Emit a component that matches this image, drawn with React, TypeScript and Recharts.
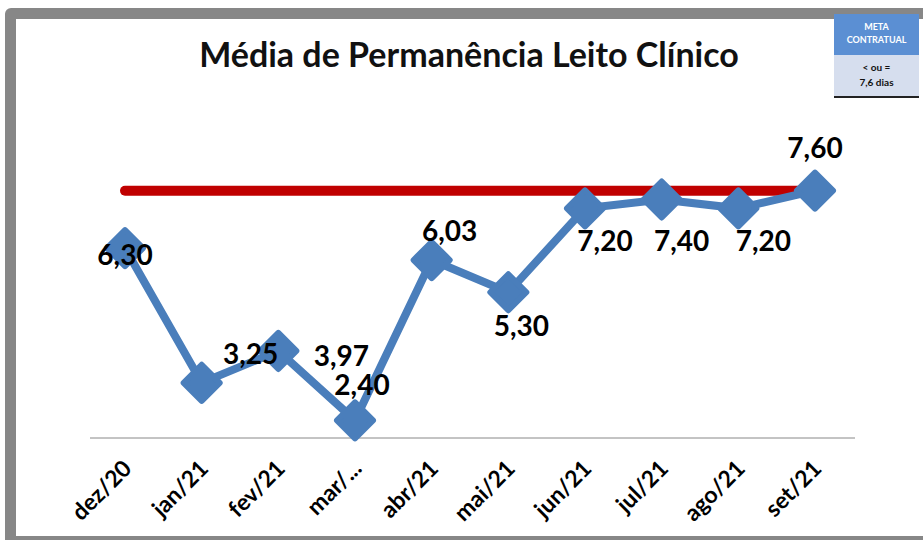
import { LineChart, Line, XAxis, YAxis, LabelList } from 'recharts';

const months = ['dez/20', 'jan/21', 'fev/21', 'mar/...', 'abr/21', 'mai/21', 'jun/21', 'jul/21', 'ago/21', 'set/21'];
const media = [6.3, 3.25, 3.97, 2.4, 6.03, 5.3, 7.2, 7.4, 7.2, 7.6];
const metaValue = 7.6;

const data = months.map((m, i) => ({ month: m, media: media[i], meta: metaValue }));

// where each data label sits relative to its point (centre of text)
const labelOffsets = [
  [0, 7], [49, -29], [63, 5], [7, -35], [18, -29],
  [13, 34], [20, 33], [20, 41], [25, 33], [0, -43],
];

const FONT = 'Lato, "Open Sans", sans-serif';
const BLUE = '#4A7EBB';

const Diamond = (props: any) => {
  const { cx, cy } = props;
  if (cx == null || cy == null) return null;
  const r = 18;
  return (
    <path
      d={`M${cx},${cy - r} L${cx + r},${cy} L${cx},${cy + r} L${cx - r},${cy} Z`}
      fill={BLUE}
      stroke={BLUE}
      strokeWidth={6}
      strokeLinejoin="round"
    />
  );
};

const ValueLabel = (props: any) => {
  const { x, y, value, index } = props;
  const [dx, dy] = labelOffsets[index] || [0, 0];
  return (
    <text
      x={x + dx}
      y={y + dy + 10}
      textAnchor="middle"
      fontFamily={FONT}
      fontWeight={700}
      fontSize={28}
      fill="#000"
    >
      {Number(value).toFixed(2).replace('.', ',')}
    </text>
  );
};

const MonthTick = (props: any) => {
  const { x, y, payload } = props;
  const tx = x + 8;
  const ty = y + 24;
  return (
    <text
      x={tx}
      y={ty}
      transform={`rotate(-45 ${tx} ${ty})`}
      textAnchor="end"
      fontFamily={FONT}
      fontWeight={700}
      fontSize={23}
      fill="#000"
    >
      {payload.value}
    </text>
  );
};

export default function App() {
  return (
    <div style={{ position: 'absolute', left: 0, top: 0, width: 923, height: 540, overflow: 'hidden', background: '#fff' }}>
      <div
        style={{
          position: 'absolute',
          left: 5,
          top: 8,
          width: 960,
          height: 539,
          border: '11px solid #878787',
          borderRadius: 6,
          boxSizing: 'border-box',
        }}
      />
      <div
        style={{
          position: 'absolute',
          left: 0,
          width: 938,
          top: 33,
          textAlign: 'center',
          fontFamily: FONT,
          fontWeight: 700,
          fontSize: 34,
          color: '#111',
        }}
      >
        Média de Permanência Leito Clínico
      </div>
      <div
        style={{
          position: 'absolute',
          left: 834,
          top: 14,
          width: 85,
          height: 82,
          fontFamily: FONT,
          fontWeight: 700,
          fontSize: 9,
          textAlign: 'center',
          boxShadow: '0 2px 0 #222',
        }}
      >
        <div style={{ background: '#5B8FD3', color: '#fff', height: 41, paddingTop: 6, boxSizing: 'border-box', lineHeight: '13px' }}>
          META
          <br />
          CONTRATUAL
        </div>
        <div style={{ background: '#D6DEEE', color: '#111', height: 41, paddingTop: 5, boxSizing: 'border-box', lineHeight: '15px', fontSize: 10 }}>
          &lt; ou =
          <br />
          7,6 dias
        </div>
      </div>
      <div style={{ position: 'absolute', left: 0, top: 0 }}>
        <LineChart width={923} height={540} data={data} margin={{ top: 173, right: 68, left: 90, bottom: 22 }}>
          <XAxis
            dataKey="month"
            height={80}
            padding={{ left: 35, right: 40 }}
            axisLine={{ stroke: '#888', strokeWidth: 1 }}
            tickLine={false}
            tick={<MonthTick />}
            interval={0}
          />
          <YAxis hide domain={[2, 8]} />
          <Line
            dataKey="meta"
            stroke="#C00000"
            strokeWidth={10}
            strokeLinecap="round"
            dot={false}
            isAnimationActive={false}
          />
          <Line
            dataKey="media"
            stroke={BLUE}
            strokeWidth={8}
            dot={<Diamond />}
            activeDot={false}
            isAnimationActive={false}
          >
            <LabelList dataKey="media" content={<ValueLabel />} />
          </Line>
        </LineChart>
      </div>
    </div>
  );
}
